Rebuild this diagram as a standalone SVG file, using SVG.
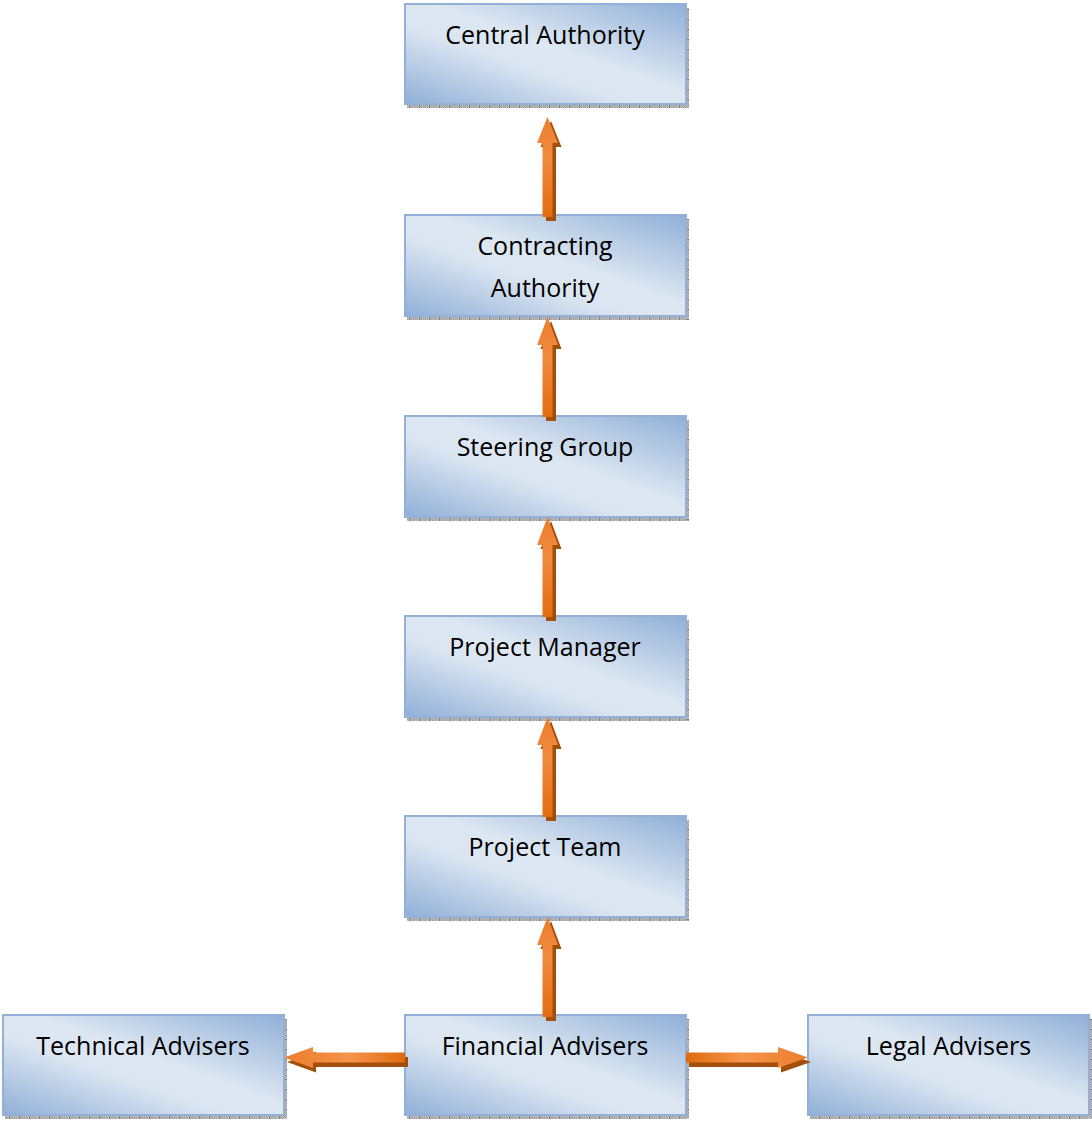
<svg xmlns="http://www.w3.org/2000/svg" width="1092" height="1121" viewBox="0 0 1092 1121">
  <defs>
    <!-- box fill: blue corners on the anti-diagonal, pale centre -->
    <linearGradient id="boxFill" x1="1" y1="0" x2="0" y2="1">
      <stop offset="0" stop-color="#90afd7"/>
      <stop offset="0.45" stop-color="#dde7f2"/>
      <stop offset="0.6" stop-color="#dce6f2"/>
      <stop offset="1" stop-color="#90afd7"/>
    </linearGradient>
    <!-- arrow body gradients -->
    <linearGradient id="arrowV" x1="0" y1="0" x2="0" y2="1">
      <stop offset="0" stop-color="#ec7d2e"/>
      <stop offset="0.4" stop-color="#f28b3e"/>
      <stop offset="1" stop-color="#e26b10"/>
    </linearGradient>
    <linearGradient id="arrowL" x1="0" y1="0" x2="1" y2="0">
      <stop offset="0" stop-color="#ec7d2e"/>
      <stop offset="0.55" stop-color="#f5944a"/>
      <stop offset="1" stop-color="#e06a0e"/>
    </linearGradient>
    <linearGradient id="arrowR" x1="1" y1="0" x2="0" y2="0">
      <stop offset="0" stop-color="#ec7d2e"/>
      <stop offset="0.55" stop-color="#f5944a"/>
      <stop offset="1" stop-color="#e06a0e"/>
    </linearGradient>
    <!-- dotted shadow texture under and beside each box -->
    <pattern id="shadowH" patternUnits="userSpaceOnUse" width="10" height="2">
      <rect width="10" height="2" fill="#c4c4c4"/>
      <rect x="0" y="0" width="1" height="1" fill="#9a9a9a"/>
      <rect x="2" y="0" width="1" height="1" fill="#9a9a9a"/>
      <rect x="4" y="0" width="1" height="1" fill="#9a9a9a"/>
      <rect x="6" y="0" width="1" height="1" fill="#9a9a9a"/>
      <rect x="1" y="1" width="1" height="1" fill="#9a9a9a"/>
      <rect x="3" y="1" width="1" height="1" fill="#9a9a9a"/>
      <rect x="5" y="1" width="1" height="1" fill="#9a9a9a"/>
      <rect x="7" y="1" width="1" height="1" fill="#9a9a9a"/>
      <rect x="9" y="0" width="1" height="2" fill="#7c7c7c"/>
    </pattern>
    <pattern id="shadowV" patternUnits="userSpaceOnUse" width="2" height="10">
      <rect width="2" height="10" fill="#c4c4c4"/>
      <rect x="0" y="0" width="1" height="1" fill="#9a9a9a"/>
      <rect x="0" y="2" width="1" height="1" fill="#9a9a9a"/>
      <rect x="0" y="4" width="1" height="1" fill="#9a9a9a"/>
      <rect x="0" y="6" width="1" height="1" fill="#9a9a9a"/>
      <rect x="1" y="1" width="1" height="1" fill="#9a9a9a"/>
      <rect x="1" y="3" width="1" height="1" fill="#9a9a9a"/>
      <rect x="1" y="5" width="1" height="1" fill="#9a9a9a"/>
      <rect x="1" y="7" width="1" height="1" fill="#9a9a9a"/>
      <rect x="0" y="9" width="2" height="1" fill="#7c7c7c"/>
    </pattern>
  </defs>
  <style>
    .box { fill: url(#boxFill); stroke: #92b0d8; stroke-width: 2; }
    .shH { fill: url(#shadowH); }
    .shV { fill: url(#shadowV); }
    .label { font-family: "Open Sans", "Liberation Sans", sans-serif; font-size: 25px; fill: #000; text-anchor: middle; }
    .ash { fill: #a24f0c; }
    .av { fill: url(#arrowV); }
    .al { fill: url(#arrowL); }
    .ar { fill: url(#arrowR); }
  </style>

  <rect width="1092" height="1121" fill="#ffffff"/>

  <!-- nodes -->
  <g id="central-authority">
    <rect class="shH" x="407" y="104" width="282" height="4"/>
    <rect class="shV" x="686" y="8" width="3" height="100"/>
    <rect class="box" x="405" y="4" width="281" height="100"/>
    <text class="label" x="545" y="44">Central Authority</text>
  </g>
  <g id="contracting-authority">
    <rect class="shH" x="407" y="316" width="282" height="4"/>
    <rect class="shV" x="686" y="219" width="3" height="101"/>
    <rect class="box" x="405" y="215" width="281" height="101"/>
    <text class="label" x="545" y="255">Contracting</text>
    <text class="label" x="545" y="297">Authority</text>
  </g>
  <g id="steering-group">
    <rect class="shH" x="407" y="517" width="282" height="4"/>
    <rect class="shV" x="686" y="420" width="3" height="101"/>
    <rect class="box" x="405" y="416" width="281" height="101"/>
    <text class="label" x="545" y="456">Steering Group</text>
  </g>
  <g id="project-manager">
    <rect class="shH" x="407" y="717" width="282" height="4"/>
    <rect class="shV" x="686" y="620" width="3" height="101"/>
    <rect class="box" x="405" y="616" width="281" height="101"/>
    <text class="label" x="545" y="656">Project Manager</text>
  </g>
  <g id="project-team">
    <rect class="shH" x="407" y="917" width="282" height="4"/>
    <rect class="shV" x="686" y="820" width="3" height="101"/>
    <rect class="box" x="405" y="816" width="281" height="101"/>
    <text class="label" x="545" y="856">Project Team</text>
  </g>
  <g id="financial-advisers">
    <rect class="shH" x="407" y="1115" width="282" height="4"/>
    <rect class="shV" x="686" y="1019" width="3" height="100"/>
    <rect class="box" x="405" y="1015" width="281" height="100"/>
    <text class="label" x="545" y="1055">Financial Advisers</text>
  </g>
  <g id="technical-advisers">
    <rect class="shH" x="5" y="1115" width="282" height="4"/>
    <rect class="shV" x="284" y="1019" width="3" height="100"/>
    <rect class="box" x="3" y="1015" width="281" height="100"/>
    <text class="label" x="143" y="1055">Technical Advisers</text>
  </g>
  <g id="legal-advisers">
    <rect class="shH" x="810" y="1115" width="282" height="4"/>
    <rect class="shV" x="1089" y="1019" width="3" height="100"/>
    <rect class="box" x="808" y="1015" width="281" height="100"/>
    <text class="label" x="948.5" y="1055">Legal Advisers</text>
  </g>

  <!-- connectors: block arrows with a dark drop shadow -->
  <g id="connectors">
    <!-- contracting -> central -->
    <path class="ash" d="M551,121 L561.5,147 L556,147 L556,221 L546,221 L546,147 L540.5,147 Z"/>
    <path class="av" d="M547.5,117 L558,143 L552.5,143 L552.5,217 L542.5,217 L542.5,143 L537,143 Z"/>
    <!-- steering -> contracting -->
    <path class="ash" d="M551,321 L561.5,349 L556,349 L556,421 L546,421 L546,349 L540.5,349 Z"/>
    <path class="av" d="M547.5,317 L558,345 L552.5,345 L552.5,417 L542.5,417 L542.5,345 L537,345 Z"/>
    <!-- manager -> steering -->
    <path class="ash" d="M551,521 L561.5,549 L556,549 L556,621 L546,621 L546,549 L540.5,549 Z"/>
    <path class="av" d="M547.5,517 L558,545 L552.5,545 L552.5,617 L542.5,617 L542.5,545 L537,545 Z"/>
    <!-- team -> manager -->
    <path class="ash" d="M551,721 L561.5,749 L556,749 L556,821 L546,821 L546,749 L540.5,749 Z"/>
    <path class="av" d="M547.5,717 L558,745 L552.5,745 L552.5,817 L542.5,817 L542.5,745 L537,745 Z"/>
    <!-- financial -> team -->
    <path class="ash" d="M551,921 L561.5,949 L556,949 L556,1021 L546,1021 L546,949 L540.5,949 Z"/>
    <path class="av" d="M547.5,917 L558,945 L552.5,945 L552.5,1017 L542.5,1017 L542.5,945 L537,945 Z"/>
    <!-- financial -> technical -->
    <path class="ash" d="M287,1062 L316,1051.5 L316,1057 L408,1057 L408,1067 L316,1067 L316,1072.5 Z"/>
    <path class="al" d="M284,1057.5 L313,1047 L313,1052.5 L405,1052.5 L405,1062.5 L313,1062.5 L313,1068 Z"/>
    <!-- financial -> legal -->
    <path class="ash" d="M811,1062 L781,1051.5 L781,1057 L689,1057 L689,1067 L781,1067 L781,1072.5 Z"/>
    <path class="ar" d="M808,1057.5 L778,1047 L778,1052.5 L686,1052.5 L686,1062.5 L778,1062.5 L778,1068 Z"/>
  </g>
</svg>
